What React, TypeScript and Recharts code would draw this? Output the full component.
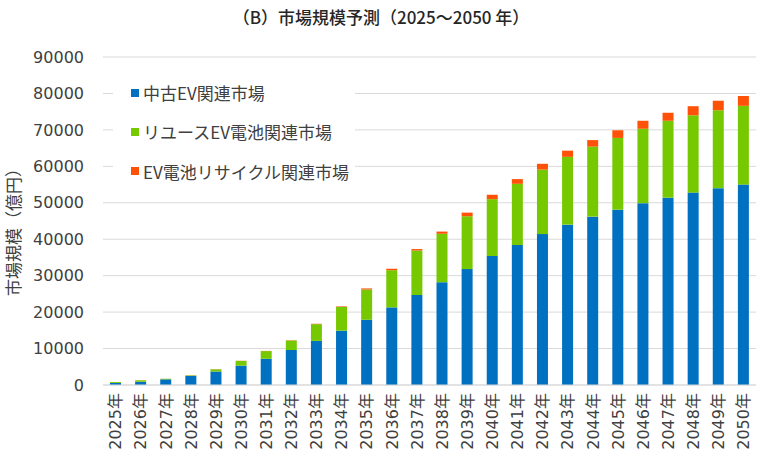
import React from "react";
import { BarChart, Bar, XAxis, YAxis, CartesianGrid, Legend } from "recharts";

const years = [
  "2025年", "2026年", "2027年", "2028年", "2029年", "2030年", "2031年", "2032年", "2033年",
  "2034年", "2035年", "2036年", "2037年", "2038年", "2039年", "2040年", "2041年", "2042年",
  "2043年", "2044年", "2045年", "2046年", "2047年", "2048年", "2049年", "2050年",
];
const usedEV = [
  550, 900, 1550, 2500, 3700, 5300, 7200, 9600, 12100, 14900, 17900, 21300, 24700, 28200,
  31800, 35400, 38400, 41400, 44000, 46200, 48100, 49900, 51400, 52800, 54000, 55000,
];
const reuseBattery = [
  250, 400, 150, 150, 600, 1300, 2100, 2600, 4600, 6500, 8300, 10200, 12200, 13300, 14500,
  15600, 16800, 17700, 18600, 19200, 19700, 20400, 21100, 21200, 21400, 21600,
];
const batteryRecycle = [
  10, 20, 20, 30, 40, 50, 60, 80, 100, 150, 300, 400, 400, 600, 1000, 1200, 1300, 1600, 1700,
  1800, 2100, 2200, 2200, 2500, 2600, 2700,
];
const yTicks = [0, 10000, 20000, 30000, 40000, 50000, 60000, 70000, 80000, 90000];

const seriesNames = ["中古EV関連市場", "リユースEV電池関連市場", "EV電池リサイクル関連市場"];
const colors = ["#0070C0", "#76C900", "#FF5208"];

const data = years.map((year, i) => ({
  year,
  used: usedEV[i],
  reuse: reuseBattery[i],
  recycle: batteryRecycle[i],
}));

const textColor = "#404040";
const numFont = "'DejaVu Sans', 'Noto Sans CJK JP', sans-serif";
const cjkFont = "'Noto Sans CJK JP', 'DejaVu Sans', sans-serif";

const XTick = (props: any) => {
  const { x, y, payload } = props;
  return (
    <text
      x={0}
      y={0}
      transform={`translate(${x},${y}) rotate(-90)`}
      textAnchor="end"
      dy="0.36em"
      fontSize={16}
      fill={textColor}
      fontFamily={numFont}
    >
      {payload.value}
    </text>
  );
};

const LegendContent = () => {
  return (
    <div style={{ background: "#fff", width: "100%", height: "100%", overflow: "visible" }}>
      {seriesNames.map((name, i) => (
        <div
          key={name}
          style={{
            height: 39.3,
            display: "flex",
            alignItems: "center",
            paddingLeft: 18,
            fontFamily: cjkFont,
            fontSize: 17,
            color: textColor,
            whiteSpace: "nowrap",
          }}
        >
          <span
            style={{
              display: "inline-block",
              flexShrink: 0,
              width: 8,
              height: 8,
              background: colors[i],
              marginRight: 4,
            }}
          />
          <span style={{ flexShrink: 0 }}>{name}</span>
        </div>
      ))}
    </div>
  );
};

export default function App() {
  return (
    <div style={{ position: "absolute", left: 0, top: 0, width: 767, height: 464, background: "#fff" }}>
      <div
        style={{
          position: "absolute",
          left: 0,
          top: 5,
          width: 762,
          textAlign: "center",
          fontFamily: cjkFont,
          fontSize: 17,
          fontWeight: 500,
          color: "#262626",
          lineHeight: "24px",
          zIndex: 2,
        }}
      >
        （B）市場規模予測（2025～2050 年）
      </div>
      <BarChart
        width={767}
        height={464}
        data={data}
        margin={{ top: 57, right: 11, left: 0, bottom: 0 }}
      >
        <CartesianGrid vertical={false} stroke="#D9D9D9" />
        <XAxis
          dataKey="year"
          interval={0}
          tickLine={false}
          axisLine={{ stroke: "#D9D9D9" }}
          height={79}
          tick={<XTick />}
        />
        <YAxis
          width={103}
          domain={[0, 90000]}
          ticks={yTicks}
          tickLine={false}
          axisLine={false}
          tickSize={0}
          tickMargin={19}
          tick={{ fontSize: 16, fill: textColor, fontFamily: numFont }}
          label={{
            content: () => (
              <text
                x={12}
                y={228}
                transform="rotate(-90 12 228)"
                textAnchor="middle"
                dominantBaseline="central"
                fontSize={17}
                fill={textColor}
                fontFamily={cjkFont}
              >
                市場規模（億円）
              </text>
            ),
          }}
        />
        <Legend
          layout="vertical"
          align="center"
          verticalAlign="middle"
          content={<LegendContent />}
          wrapperStyle={{ left: 113, top: 73, width: 242, height: 118 }}
        />
        <Bar dataKey="used" name={seriesNames[0]} stackId="a" fill={colors[0]} barSize={11} isAnimationActive={false} />
        <Bar dataKey="reuse" name={seriesNames[1]} stackId="a" fill={colors[1]} barSize={11} isAnimationActive={false} />
        <Bar dataKey="recycle" name={seriesNames[2]} stackId="a" fill={colors[2]} barSize={11} isAnimationActive={false} />
      </BarChart>
    </div>
  );
}
